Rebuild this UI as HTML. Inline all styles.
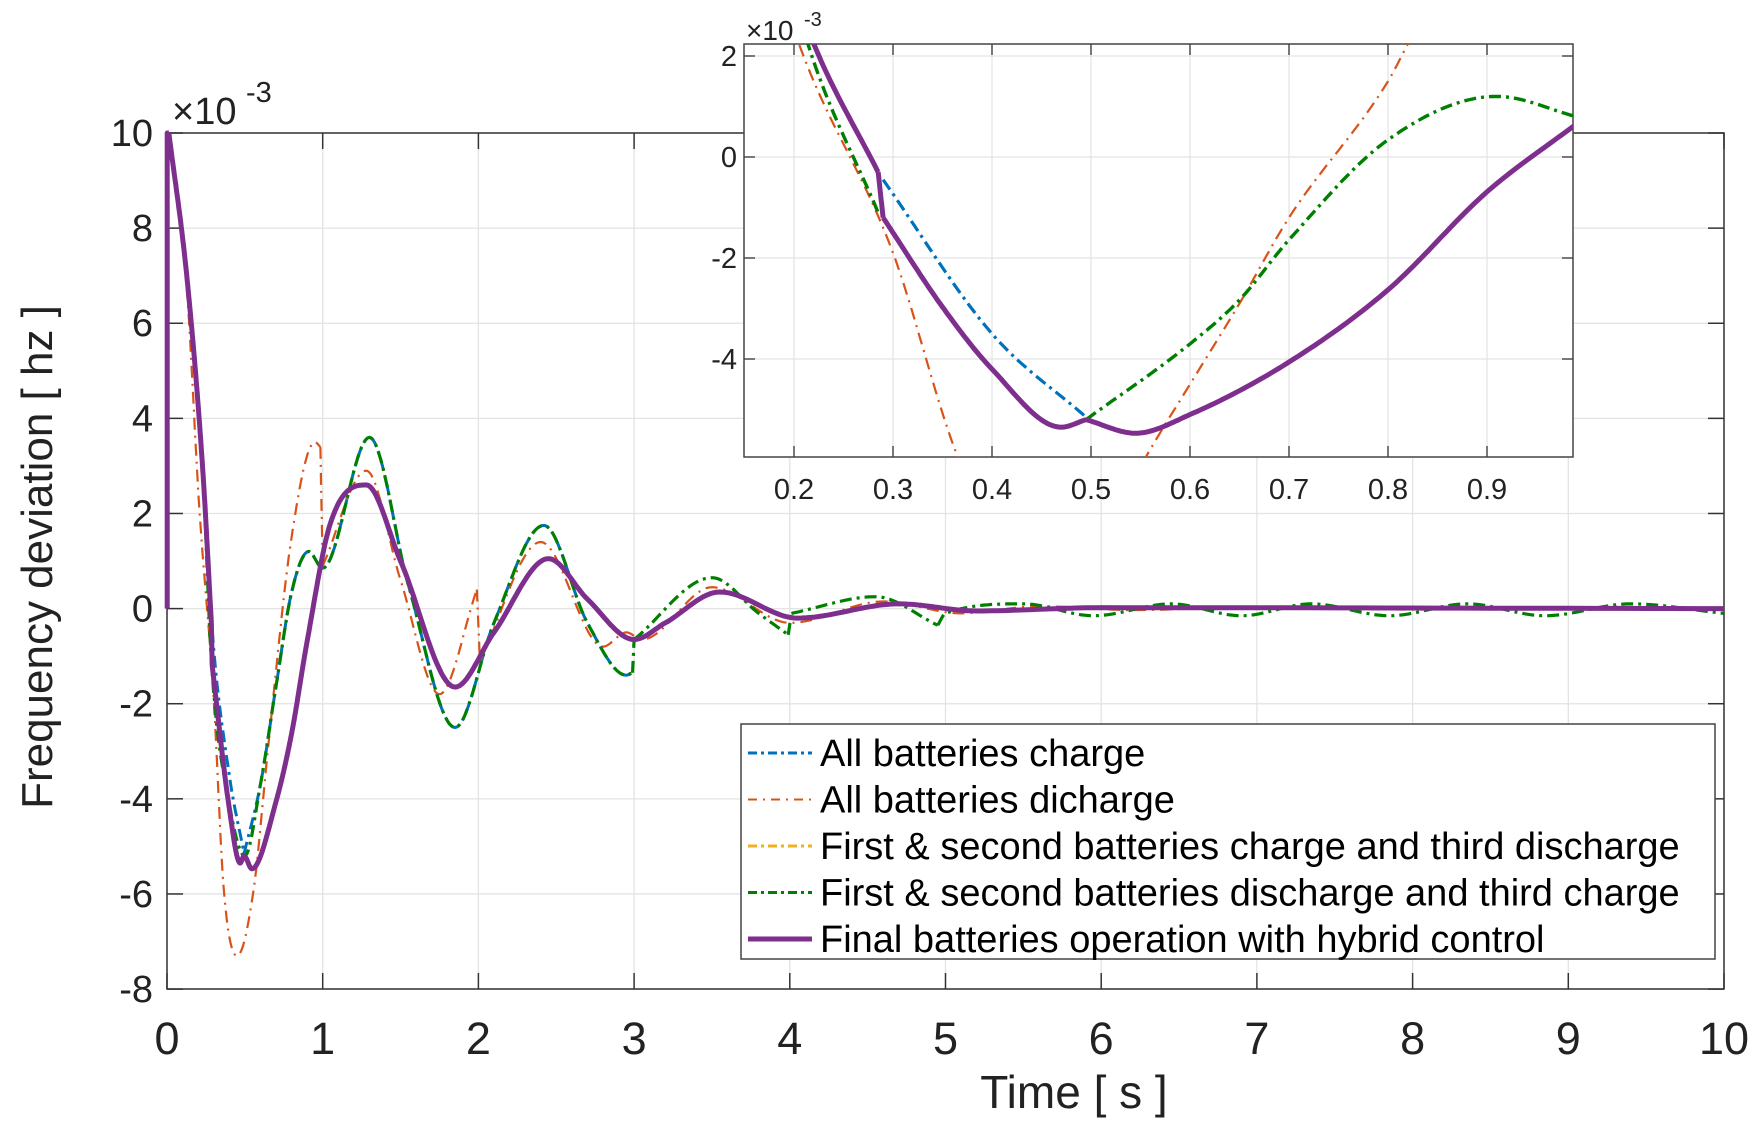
<!DOCTYPE html>
<html><head><meta charset="utf-8"><style>
body{margin:0;background:#fff;}
svg{display:block;font-family:"Liberation Sans",Arial,sans-serif;}
</style></head><body>
<svg id="s" width="1756" height="1125" viewBox="0 0 1756 1125" xmlns="http://www.w3.org/2000/svg">
<defs>
<clipPath id="cm"><rect x="160" y="120" width="1570" height="875"/></clipPath>
<clipPath id="ci"><rect x="744" y="44" width="829" height="413"/></clipPath>
</defs>
<rect width="1756" height="1125" fill="#fff"/>
<g id="main"></g>
<g id="inset"></g>
<g id="legend"></g>
</svg>
<script>
const NS="http://www.w3.org/2000/svg";
function el(p,t,a,txt){const e=document.createElementNS(NS,t);for(const k in a)e.setAttribute(k,a[k]);if(txt!==undefined)e.textContent=txt;p.appendChild(e);return e;}
function mono(pts,n){
  const out=[];const N=pts.length;
  if(N<2)return pts;
  for(let i=0;i<N-1;i++){if(pts[i+1][0]-pts[i][0]<=0)return pts;}
  const d=[],m=[];
  for(let i=0;i<N-1;i++){d.push((pts[i+1][1]-pts[i][1])/(pts[i+1][0]-pts[i][0]));}
  m[0]=d[0];m[N-1]=d[N-2];
  for(let i=1;i<N-1;i++){m[i]=(d[i-1]*d[i]<=0)?0:(d[i-1]+d[i])/2;}
  for(let i=0;i<N-1;i++){
    if(d[i]===0){m[i]=0;m[i+1]=0;continue;}
    const a=m[i]/d[i],b=m[i+1]/d[i],s=a*a+b*b;
    if(s>9){const t=3/Math.sqrt(s);m[i]=t*a*d[i];m[i+1]=t*b*d[i];}
  }
  for(let i=0;i<N-1;i++){
    const x0=pts[i][0],x1=pts[i+1][0],y0=pts[i][1],y1=pts[i+1][1],h=x1-x0;
    for(let k=0;k<n;k++){const t=k/n;const h00=2*t*t*t-3*t*t+1,h10=t*t*t-2*t*t+t,h01=-2*t*t*t+3*t*t,h11=t*t*t-t*t;
      out.push([x0+t*h,h00*y0+h10*h*m[i]+h01*y1+h11*h*m[i+1]]);}
  }
  out.push(pts[N-1]);return out;
}
function path(segs,X,Y){let s="";for(const seg of segs){const p=mono(seg,24);s+=p.map((q,i)=>(i?"L":"M")+X(q[0]).toFixed(1)+" "+Y(q[1]).toFixed(1)).join("");}return s;}

const M=document.getElementById("main");
const X=t=>167+155.7*t, Y=v=>133+(10-v)*47.56;
for(let i=0;i<=10;i++){el(M,"line",{x1:X(i),x2:X(i),y1:133,y2:989,stroke:"#e3e3e3","stroke-width":1.3});}
for(let v=-8;v<=10;v+=2){el(M,"line",{x1:167,x2:1724,y1:Y(v),y2:Y(v),stroke:"#e3e3e3","stroke-width":1.3});}
for(let i=0;i<=10;i++){el(M,"line",{x1:X(i),x2:X(i),y1:989,y2:973,stroke:"#333","stroke-width":1.5});el(M,"line",{x1:X(i),x2:X(i),y1:133,y2:149,stroke:"#333","stroke-width":1.5});
 el(M,"text",{x:X(i),y:1054,"font-size":45,"text-anchor":"middle",fill:"#222"},i);}
for(let v=-8;v<=10;v+=2){el(M,"line",{x1:167,x2:183,y1:Y(v),y2:Y(v),stroke:"#333","stroke-width":1.5});el(M,"line",{x1:1708,x2:1724,y1:Y(v),y2:Y(v),stroke:"#333","stroke-width":1.5});
 el(M,"text",{x:153,y:Y(v)+13,"font-size":38,"text-anchor":"end",fill:"#222"},v);}
el(M,"rect",{x:167,y:133,width:1557,height:856,fill:"none",stroke:"#333","stroke-width":1.5});
el(M,"text",{x:172,y:124,"font-size":38,fill:"#222"},"×10");
el(M,"text",{x:246,y:102,"font-size":29,fill:"#222"},"-3");
el(M,"text",{x:1074,y:1108,"font-size":46,"text-anchor":"middle",fill:"#222"},"Time [ s ]");
el(M,"text",{x:0,y:0,"font-size":44,"text-anchor":"middle",fill:"#222",transform:"translate(52,557) rotate(-90)"},"Frequency deviation [ hz ]");

const gm=el(M,"g",{"clip-path":"url(#cm)"});
const head=[[0.012,10],[0.13,6.9],[0.23,2.9]];
const blue=[[...head,[0.29,-0.45],[0.4,-3.5],[0.495,-5.15]],[[0.495,-5.15],[0.6,-3.7],[0.7,-1.64],[0.8,0.34],[0.91,1.2],[1.0,0.85],[1.3,3.6],[1.55,0.5],[1.85,-2.5],[2.1,-0.3],[2.42,1.75],[2.7,-0.3],[2.95,-1.4],[3.0,-1.3]]];
const orange=[[[0.012,10],[0.13,6.6],[0.205,2.24],[0.3,-1.9],[0.3646,-5.9],[0.45,-7.3],[0.5566,-5.9],[0.65,-2.9],[0.8,1.5],[0.95,3.5],[0.985,3.4]],
 [[0.985,3.4],[1.0,0.9]],[[1.0,0.9],[1.28,2.9],[1.5,0.6],[1.75,-1.8],[1.99,0.4]],[[1.99,0.4],[2.01,-1.1]],[[2.01,-1.1],[2.4,1.4],[2.8,-0.8],[2.95,-0.5],[3.05,-0.65],[3.5,0.45],[4.0,-0.3],[4.6,0.15],[5.1,-0.1],[5.6,0.05],[6.2,-0.03],[7,0.03],[8,-0.02],[9,0.02],[10,0]]];
const green=[[...head,[0.285,-1.1],[0.4,-4.1],[0.5,-5.2],[0.6,-3.7],[0.7,-1.64],[0.8,0.34],[0.91,1.2],[1.0,0.85],[1.3,3.6],[1.55,0.5],[1.85,-2.5],[2.1,-0.3],[2.42,1.75],[2.7,-0.3],[2.95,-1.4],[2.99,-1.35]],
 [[2.99,-1.35],[3.0,-0.65]],[[3.0,-0.65],[3.5,0.65],[3.8,-0.1],[3.99,-0.55]],[[3.99,-0.55],[4.01,-0.1]],[[4.01,-0.1],[4.55,0.25],[4.95,-0.35]],[[4.95,-0.35],[5.0,-0.1],[5.5,0.1],[5.95,-0.15],[6.45,0.1],[6.9,-0.15],[7.35,0.1],[7.85,-0.15],[8.35,0.1],[8.85,-0.15],[9.4,0.1],[10,-0.1]]];
const purple=[[[0.001,0],[0.001,10],[0.012,10]],[...head,[0.285,-0.3]],[[0.285,-0.3],[0.29,-1.2]],[[0.29,-1.2],[0.4,-4.2],[0.47,-5.35],[0.495,-5.2],[0.545,-5.47],[0.7,-4.06],[0.8,-2.63],[0.9,-0.69],[1.05,1.8],[1.28,2.6],[1.5,1],[1.85,-1.65],[2.1,-0.5],[2.45,1.05],[2.7,0.2],[3.0,-0.65],[3.2,-0.3],[3.55,0.35],[4.05,-0.2],[4.7,0.1],[5.2,-0.05],[6,0.02],[10,0]]];
const C={b:"#0072bd",o:"#d95319",y:"#edb120",g:"#008000",p:"#7e2f8e"};
function draw(g,segs,c,w,dash,Xf,Yf){el(g,"path",{d:path(segs,Xf,Yf),fill:"none",stroke:c,"stroke-width":w,"stroke-dasharray":dash||"none","stroke-linejoin":"round"});}
draw(gm,blue,C.b,3,"12 5 3 5",X,Y);
draw(gm,orange,C.o,2.2,"12 6 2 6",X,Y);
draw(gm,green,C.g,3.2,"12 5 3 5",X,Y);
draw(gm,purple,C.p,5,null,X,Y);

const I=document.getElementById("inset");
const XI=t=>794+990*(t-0.2), YI=v=>157-50.5*v;
el(I,"rect",{x:744,y:44,width:829,height:413,fill:"#fff"});
for(let k=2;k<=9;k++){const x=XI(k/10);el(I,"line",{x1:x,x2:x,y1:44,y2:457,stroke:"#e3e3e3","stroke-width":1.2});
 el(I,"line",{x1:x,x2:x,y1:457,y2:446,stroke:"#333","stroke-width":1.3});el(I,"line",{x1:x,x2:x,y1:44,y2:55,stroke:"#333","stroke-width":1.3});
 el(I,"text",{x:x,y:499,"font-size":29,"text-anchor":"middle",fill:"#222"},"0."+k);}
for(const v of [2,0,-2,-4]){const y=YI(v);el(I,"line",{x1:744,x2:1573,y1:y,y2:y,stroke:"#e3e3e3","stroke-width":1.2});
 el(I,"line",{x1:744,x2:755,y1:y,y2:y,stroke:"#333","stroke-width":1.3});el(I,"line",{x1:1562,x2:1573,y1:y,y2:y,stroke:"#333","stroke-width":1.3});
 el(I,"text",{x:737,y:y+10,"font-size":29,"text-anchor":"end",fill:"#222"},v);}
el(I,"rect",{x:744,y:44,width:829,height:413,fill:"none",stroke:"#444","stroke-width":1.5});
el(I,"text",{x:746,y:40,"font-size":28,fill:"#222"},"×10");
el(I,"text",{x:804,y:26,"font-size":20,fill:"#222"},"-3");
const gi=el(I,"g",{"clip-path":"url(#ci)"});
draw(gi,[[[0.29,-0.45],[0.4,-3.5],[0.495,-5.15]]],C.b,3.2,"12 5 3 5",XI,YI);
draw(gi,[[[0.19,3.2],[0.205,2.24],[0.3,-1.9],[0.3646,-5.9],[0.38,-6.5]],[[0.54,-6.5],[0.5566,-5.9],[0.6,-4.5],[0.65,-2.9],[0.7,-1.2],[0.8,1.5],[0.82,2.24],[0.84,3]]],C.o,2.2,"12 6 2 6",XI,YI);
draw(gi,[[[0.2,3.3],[0.214,2.24],[0.285,-1.1]],[[0.495,-5.2],[0.6,-3.7],[0.65,-2.83],[0.7,-1.64],[0.8,0.34],[0.91,1.2],[0.99,0.8]]],C.g,3.4,"12 5 3 5",XI,YI);
draw(gi,[[[0.21,2.8],[0.22,2.24],[0.285,-0.3]],[[0.285,-0.3],[0.29,-1.2]],[[0.29,-1.2],[0.35,-2.97],[0.4,-4.2],[0.47,-5.35],[0.495,-5.2]],[[0.495,-5.2],[0.545,-5.47],[0.6,-5.1],[0.7,-4.06],[0.8,-2.63],[0.9,-0.69],[0.99,0.65]]],C.p,5,null,XI,YI);

const L=document.getElementById("legend");
el(L,"rect",{x:741,y:724,width:974,height:235,fill:"#fff",stroke:"#444","stroke-width":1.5});
const items=[["All batteries charge",C.b,3,"9 4 3 4"],["All batteries dicharge",C.o,2,"9 6 2 6"],["First & second batteries charge and third discharge",C.y,3,"9 4 3 4"],["First & second batteries discharge and third charge",C.g,3,"9 4 3 4"],["Final batteries operation with hybrid control",C.p,5,null]];
items.forEach((it,i)=>{const y=753+i*46.5;el(L,"line",{x1:748,x2:812,y1:y,y2:y,stroke:it[1],"stroke-width":it[2],"stroke-dasharray":it[3]||"none"});
 el(L,"text",{x:820,y:y+13,"font-size":38,fill:"#000"},it[0]);});
</script>
</body></html>
